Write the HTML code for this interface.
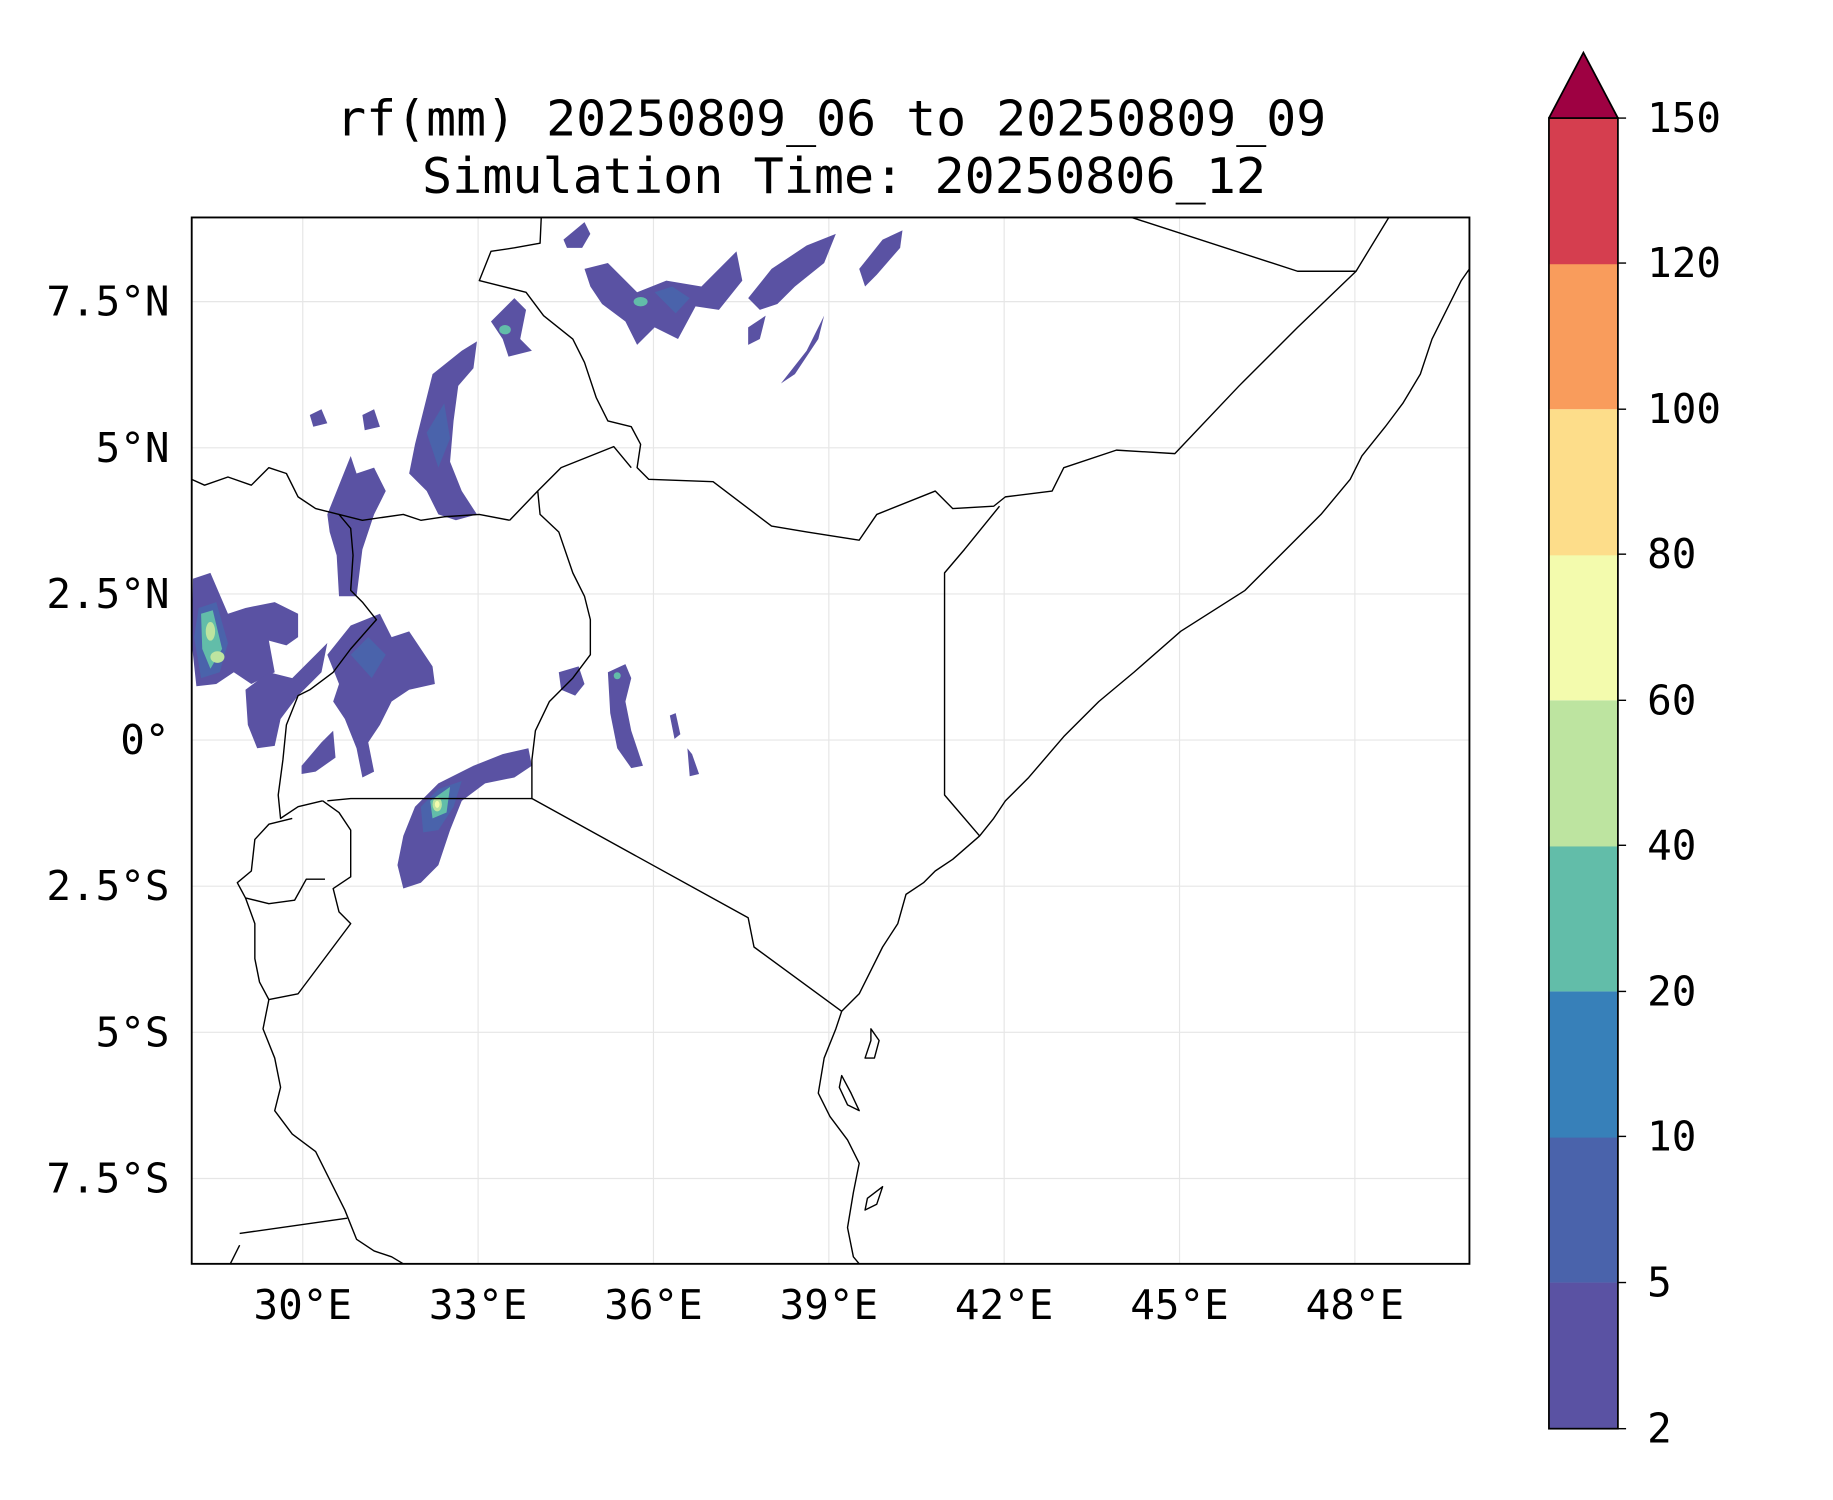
<!DOCTYPE html>
<html><head><meta charset="utf-8"><style>
html,body{margin:0;padding:0;background:#fff;}
svg{display:block;}
text{font-family:"DejaVu Sans Mono","Liberation Mono",monospace;fill:#000;}
</style></head><body>
<svg width="1833" height="1500" viewBox="0 0 1568 1283" preserveAspectRatio="none" xmlns="http://www.w3.org/2000/svg">
<rect width="1568" height="1283" fill="#fff"/>
<text x="711" y="116" font-size="42" text-anchor="middle" textLength="847" lengthAdjust="spacingAndGlyphs">rf(mm) 20250809_06 to 20250809_09</text>
<text x="722" y="165" font-size="42" text-anchor="middle" textLength="722" lengthAdjust="spacingAndGlyphs">Simulation Time: 20250806_12</text>
<g stroke="#e6e6e6" stroke-width="1">
<line x1="259" y1="186" x2="259" y2="1081"/><line x1="409" y1="186" x2="409" y2="1081"/><line x1="559" y1="186" x2="559" y2="1081"/><line x1="709" y1="186" x2="709" y2="1081"/><line x1="859" y1="186" x2="859" y2="1081"/><line x1="1009" y1="186" x2="1009" y2="1081"/><line x1="1159" y1="186" x2="1159" y2="1081"/>
<line x1="164" y1="258" x2="1257" y2="258"/><line x1="164" y1="383" x2="1257" y2="383"/><line x1="164" y1="508" x2="1257" y2="508"/><line x1="164" y1="633" x2="1257" y2="633"/><line x1="164" y1="758" x2="1257" y2="758"/><line x1="164" y1="883" x2="1257" y2="883"/><line x1="164" y1="1008" x2="1257" y2="1008"/>
</g>
<g fill="#5a52a3" stroke="none">
<path d="M482,205 L500,190 L505,200 L498,212 L485,212Z"/>
<path d="M500,230 L520,225 L545,250 L570,240 L600,245 L630,215 L635,240 L615,265 L595,262 L580,290 L560,280 L545,295 L535,275 L515,260 L505,245Z"/>
<path d="M640,255 L660,230 L690,210 L715,200 L705,225 L680,245 L665,260 L650,265Z"/>
<path d="M735,230 L755,205 L772,197 L770,212 L750,235 L740,245Z"/>
<path d="M690,300 L705,270 L700,290 L680,320 L668,328Z"/>
<path d="M640,280 L655,270 L650,290 L640,295Z"/>
<path d="M420,275 L440,255 L450,265 L445,290 L455,300 L435,305 L430,290Z"/>
<path d="M360,360 L370,320 L395,300 L408,292 L405,315 L392,330 L388,360 L385,395 L395,420 L408,440 L390,445 L375,440 L365,420 L350,405 L355,380Z"/>
<path d="M280,440 L300,390 L305,405 L320,400 L330,420 L320,440 L310,470 L305,510 L290,510 L288,475 L282,455Z"/>
<path d="M310,355 L320,350 L325,365 L312,368Z"/><path d="M265,355 L275,350 L280,362 L268,365Z"/>
<path d="M165,495 L180,490 L195,525 L210,520 L235,515 L255,525 L255,545 L245,552 L230,548 L235,575 L215,585 L200,575 L185,585 L168,587 L164,550Z"/>
<path d="M210,590 L230,575 L250,580 L270,560 L280,550 L275,575 L255,595 L240,615 L235,638 L220,640 L212,620Z"/>
<path d="M280,560 L300,535 L325,525 L335,545 L350,540 L370,570 L372,585 L350,590 L335,600 L325,620 L315,635 L320,660 L310,665 L305,640 L295,615 L285,600 L290,585Z"/>
<path d="M258,655 L275,635 L285,625 L287,648 L270,660 L258,662Z"/>
<path d="M478,575 L495,570 L500,585 L492,595 L480,590Z"/>
<path d="M520,575 L535,568 L540,580 L535,600 L540,625 L550,655 L540,657 L528,640 L522,610Z"/>
<path d="M573,612 L578,610 L582,628 L577,632Z"/>
<path d="M588,640 L592,645 L598,662 L590,664Z"/>
<path d="M340,740 L345,715 L355,690 L375,670 L405,655 L430,645 L452,640 L455,655 L440,665 L415,670 L395,685 L385,710 L375,740 L360,755 L345,760Z"/>
</g>
<g fill="#4a63ab"><path d="M560,250 L575,245 L590,255 L578,268Z"/><path d="M170,520 L185,515 L195,550 L188,575 L172,580 L166,545Z"/><path d="M360,690 L375,675 L395,668 L388,690 L375,710 L362,712Z"/><path d="M300,560 L315,545 L330,560 L318,580Z"/><path d="M365,370 L380,345 L385,375 L375,400Z"/></g>
<g fill="#62bda9"><path d="M172,525 L182,522 L190,555 L180,572 L173,555Z"/><path d="M368,685 L385,673 L382,695 L370,700Z"/><ellipse cx="548" cy="258" rx="6" ry="4"/><ellipse cx="528" cy="578" rx="3" ry="3"/><ellipse cx="432" cy="282" rx="5" ry="4"/></g>
<g fill="#bde4a0"><ellipse cx="180" cy="540" rx="4" ry="8"/><ellipse cx="186" cy="562" rx="6" ry="5"/><ellipse cx="374" cy="688" rx="4" ry="6"/></g>
<g fill="#f3fbad"><ellipse cx="374" cy="688" rx="2" ry="3"/></g>
<g fill="none" stroke="#000" stroke-width="1.2" stroke-linejoin="round">
<path d="M463,186 L462,208 L440,212 L420,215 L410,240 L430,245 L450,250 L465,270 L490,290 L500,310 L510,340 L520,360 L540,365 L548,380 L545,400 L555,410 L610,412 L660,450 L690,455 L735,462 L750,440 L800,420 L815,435 L850,433 L860,425 L900,420 L910,400 L955,385 L1005,388 L1060,330 L1110,280 L1160,232 L1188,186"/>
<path d="M968,186 L1110,232 L1160,232"/>
<path d="M855,433 L825,470 L808,490 L808,680 L838,715"/>
<path d="M1257,230 L1250,240 L1240,260 L1225,290 L1215,320 L1200,345 L1185,365 L1165,390 L1155,410 L1130,440 L1100,470 L1065,505 L1010,540 L970,575 L940,600 L910,630 L880,665 L860,685 L850,700 L838,715 L815,735 L800,745 L790,755 L775,765 L768,790 L755,810 L745,830 L735,850 L720,865 L715,880 L705,905 L700,935 L710,955 L725,975 L735,995 L730,1020 L725,1050 L730,1075 L735,1081"/>
<path d="M455,683 L640,785 L645,810 L720,865"/>
<path d="M436,445 L460,420 L480,400 L525,382 L540,400"/>
<path d="M460,420 L462,440 L478,455 L490,490 L500,510 L505,530 L505,560 L490,580 L470,600 L458,625 L455,650 L455,683 L300,683 L280,685"/>
<path d="M276,685 L255,690 L240,700 L238,680 L242,650 L245,620 L255,595 L265,590 L285,575 L300,555 L322,530 L310,515 L300,505 L302,475 L300,452 L290,440 L310,445 L345,440 L360,445 L380,442 L410,440 L436,445"/>
<path d="M164,410 L175,415 L195,408 L215,415 L230,400 L245,405 L255,425 L270,435 L290,440"/>
<path d="M276,685 L290,695 L300,710 L300,750 L285,760 L290,780 L300,790 L285,810 L270,830 L255,850 L230,855 L225,880 L235,905 L240,930 L235,950 L250,970 L270,985 L285,1015 L295,1035 L305,1060 L320,1070 L335,1075 L345,1081"/>
<path d="M250,700 L230,705 L218,718 L215,745 L203,755 L210,768 L230,773 L252,770 L262,752 L278,752"/>
<path d="M210,768 L218,790 L218,820 L222,840 L230,855"/>
<path d="M205,1055 L297,1042"/><path d="M197,1081 L205,1065"/>
<path d="M745,880 L752,890 L748,905 L740,905 L745,890Z"/><path d="M720,920 L728,935 L735,950 L725,945 L718,930Z"/><path d="M742,1025 L755,1015 L750,1030 L740,1035Z"/>
</g>
<rect x="164" y="186" width="1093" height="895" fill="none" stroke="#000" stroke-width="1.6"/>
<g font-size="35" text-anchor="middle">
<text x="259" y="1128">30°E</text><text x="409" y="1128">33°E</text><text x="559" y="1128">36°E</text><text x="709" y="1128">39°E</text><text x="859" y="1128">42°E</text><text x="1009" y="1128">45°E</text><text x="1159" y="1128">48°E</text>
</g>
<g font-size="35" text-anchor="end">
<text x="145" y="270">7.5°N</text><text x="145" y="395">5°N</text><text x="145" y="520">2.5°N</text><text x="145" y="645">0°</text><text x="145" y="770">2.5°S</text><text x="145" y="895">5°S</text><text x="145" y="1020">7.5°S</text>
</g>
<g stroke="none">
<rect x="1325" y="1097" width="59" height="125" fill="#5a52a3"/>
<rect x="1325" y="972" width="59" height="125" fill="#4a63ab"/>
<rect x="1325" y="848" width="59" height="125" fill="#3780b9"/>
<rect x="1325" y="723" width="59" height="125" fill="#62bda9"/>
<rect x="1325" y="599" width="59" height="125" fill="#bde4a0"/>
<rect x="1325" y="474" width="59" height="125" fill="#f3fbad"/>
<rect x="1325" y="350" width="59" height="125" fill="#fddd8a"/>
<rect x="1325" y="225" width="59" height="125" fill="#f99c5c"/>
<rect x="1325" y="101" width="59" height="125" fill="#d53e4f"/>
</g>
<path d="M1325,101 L1354.5,45 L1384,101" fill="#9e0142" stroke="#000" stroke-width="1.5"/>
<rect x="1325" y="101" width="59" height="1121" fill="none" stroke="#000" stroke-width="1.5"/>
<g stroke="#000" stroke-width="1.2">
<line x1="1384" y1="101" x2="1391" y2="101"/><line x1="1384" y1="225" x2="1391" y2="225"/><line x1="1384" y1="350" x2="1391" y2="350"/><line x1="1384" y1="474" x2="1391" y2="474"/><line x1="1384" y1="599" x2="1391" y2="599"/><line x1="1384" y1="723" x2="1391" y2="723"/><line x1="1384" y1="848" x2="1391" y2="848"/><line x1="1384" y1="972" x2="1391" y2="972"/><line x1="1384" y1="1097" x2="1391" y2="1097"/><line x1="1384" y1="1222" x2="1391" y2="1222"/>
</g>
<g font-size="35">
<text x="1409" y="113">150</text><text x="1409" y="237">120</text><text x="1409" y="362">100</text><text x="1409" y="486">80</text><text x="1409" y="611">60</text><text x="1409" y="735">40</text><text x="1409" y="860">20</text><text x="1409" y="984">10</text><text x="1409" y="1109">5</text><text x="1409" y="1234">2</text>
</g>
</svg>
</body></html>
